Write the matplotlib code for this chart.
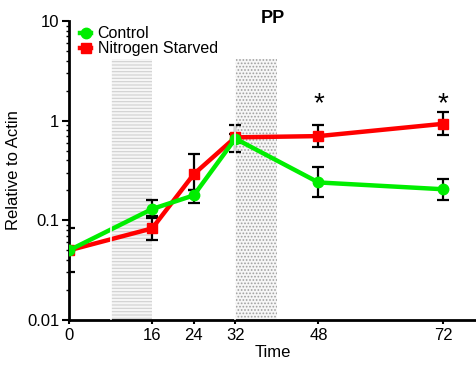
import numpy as np
import matplotlib
matplotlib.use("Agg")
import matplotlib.pyplot as plt
from matplotlib.ticker import LogLocator, NullFormatter

plt.rcParams['font.family'] = ['Liberation Sans', 'DejaVu Sans']
plt.rcParams['hatch.linewidth'] = 0.8

# time points (h) and relative expression
hours = [0, 16, 24, 32, 48, 72]
control = [0.05, 0.13, 0.178, 0.66, 0.24, 0.205]
control_lo = [0.05, 0.105, 0.15, 0.48, 0.17, 0.16]
control_hi = [0.05, 0.16, 0.20, 0.91, 0.34, 0.26]
starved = [0.05, 0.083, 0.29, 0.68, 0.70, 0.93]
starved_lo = [0.03, 0.063, 0.20, 0.60, 0.54, 0.71]
starved_hi = [0.083, 0.11, 0.46, 0.74, 0.91, 1.23]

dark_periods = [(8, 16), (32, 40)]
shade_top = 4.2
star_hours = [48, 72]
star_y = 1.45

fig = plt.figure(figsize=(4.77, 3.65), dpi=100)
ax = fig.add_axes([69 / 477, 45 / 365, 408 / 477, 299 / 365])

for (a, b), hatch, ec in zip(dark_periods, ['-----', '.....'], ['#d0d0d0', '#a0a0a0']):
    ax.fill_between([a, b], 0.0102, shade_top, facecolor='#f6f6f6', edgecolor=ec,
                    hatch=hatch, linewidth=0, zorder=1)

def errs(v, lo, hi):
    v = np.array(v)
    return [v - np.array(lo), np.array(hi) - v]

ax.errorbar(hours, control, yerr=errs(control, control_lo, control_hi), fmt='none',
            ecolor='black', elinewidth=1.6, capsize=4, capthick=1.6, zorder=4)
ax.errorbar(hours, starved, yerr=errs(starved, starved_lo, starved_hi), fmt='none',
            ecolor='black', elinewidth=1.6, capsize=4, capthick=1.6, zorder=4)

ax.plot(hours, starved, color='#ff0000', lw=3.2, marker='s', ms=7.5, zorder=5,
        label='Nitrogen Starved')
ax.plot(hours, control, color='#00ee00', lw=3.2, marker='o', ms=7.5, zorder=6,
        label='Control')

# white seams at the left edge of each shaded block
for a, b in dark_periods:
    ax.plot([a, a], [0.0102, shade_top], color='white', lw=1.2, zorder=7)

for h in star_hours:
    ax.text(h, star_y, '*', ha='center', va='center', fontsize=20, zorder=8)

ax.set_yscale('log')
ax.set_ylim(0.01, 10)
ax.set_xlim(0, 78.5)
ax.set_yticks([0.01, 0.1, 1, 10])
ax.set_yticklabels(['0.01', '0.1', '1', '10'])
ax.yaxis.set_minor_locator(LogLocator(base=10, subs=np.arange(2, 10)))
ax.yaxis.set_minor_formatter(NullFormatter())
ax.set_xticks(hours)
ax.set_xticklabels([str(h) for h in hours])

for s in ['top', 'right']:
    ax.spines[s].set_visible(False)
for s in ['left', 'bottom']:
    ax.spines[s].set_linewidth(2)
ax.tick_params(axis='both', which='major', labelsize=12, width=1.5)
ax.tick_params(axis='y', which='major', length=5, pad=2)
ax.tick_params(axis='y', which='minor', length=2.5, width=1)
ax.tick_params(axis='x', which='major', length=3, pad=3)

ax.set_xlabel('Time', fontsize=12, labelpad=1)
ax.set_ylabel('Relative to Actin', fontsize=12)
ax.yaxis.set_label_coords(-0.118, 0.5)
ax.text(0.5, 1.007, 'PP', transform=ax.transAxes, ha='center', va='center',
        fontsize=13, fontweight='bold')

handles, labels = ax.get_legend_handles_labels()
ax.legend(handles[::-1], labels[::-1], loc='upper left', bbox_to_anchor=(0.0, 1.02),
          frameon=False, fontsize=11.5, handlelength=0.7, handletextpad=0.4,
          labelspacing=0.0, borderaxespad=0.3)

fig.savefig('out.png', dpi=100)
